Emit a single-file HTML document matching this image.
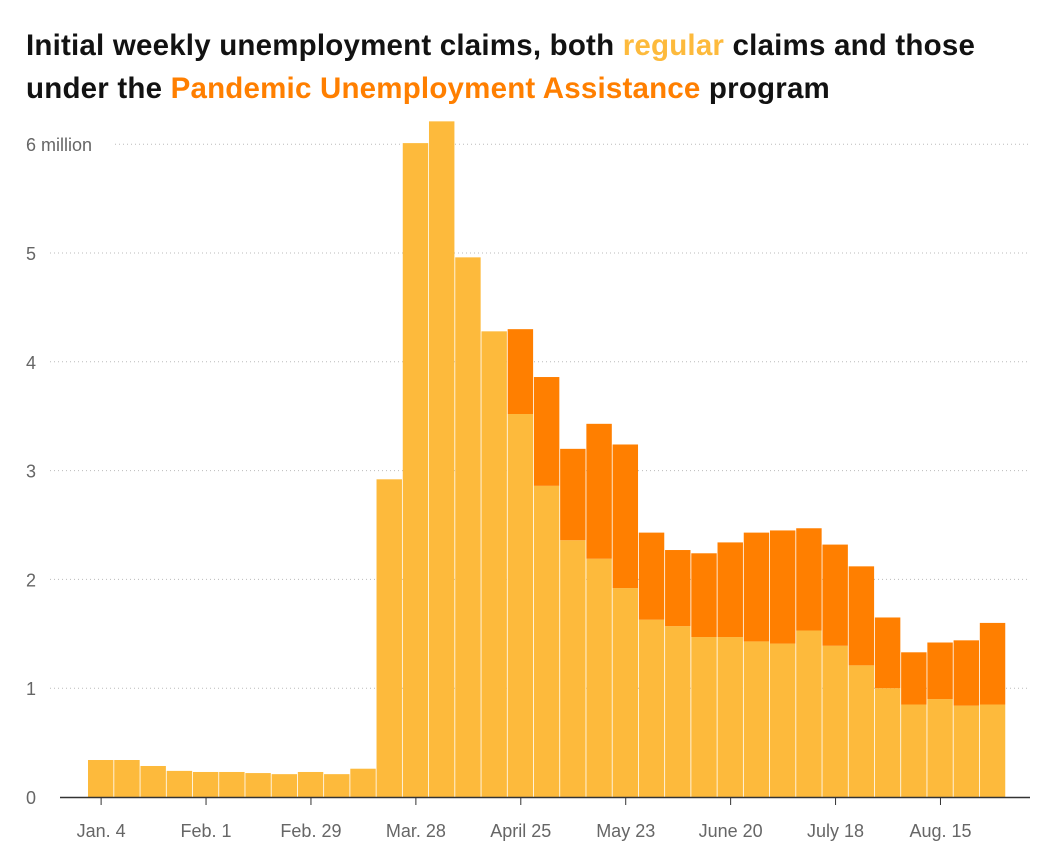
<!DOCTYPE html>
<html><head><meta charset="utf-8"><style>
body{margin:0;background:#fff;width:1061px;height:859px;overflow:hidden;font-family:"Liberation Sans",sans-serif}
h1{position:absolute;left:26px;top:24px;margin:0;font-size:29.5px;line-height:43px;font-weight:bold;color:#121212;width:990px;letter-spacing:0.2px}
.r{color:#fdba3c}.p{color:#ff7f00}
</style></head><body>
<h1>Initial weekly unemployment claims, both <span class="r">regular</span> claims and those<br>under the <span class="p">Pandemic Unemployment Assistance</span> program</h1>
<svg id="c" width="1061" height="859" style="position:absolute;left:0;top:0"></svg>
<script>
const regular=[0.34,0.34,0.285,0.24,0.23,0.23,0.22,0.21,0.23,0.21,0.26,2.92,6.01,6.21,4.96,4.28,3.52,2.86,2.36,2.19,1.92,1.63,1.57,1.47,1.47,1.43,1.41,1.53,1.39,1.21,1.00,0.85,0.90,0.84,0.85];
const total=[0.34,0.34,0.285,0.24,0.23,0.23,0.22,0.21,0.23,0.21,0.26,2.92,6.01,6.21,4.96,4.28,4.30,3.86,3.20,3.43,3.24,2.43,2.27,2.24,2.34,2.43,2.45,2.47,2.32,2.12,1.65,1.33,1.42,1.44,1.60];
const yTicks=[0,1,2,3,4,5,6];
const yLabels=["0","1","2","3","4","5","6 million"];
const xTickIdx=[0,4,8,12,16,20,24,28,32];
const xLabels=["Jan. 4","Feb. 1","Feb. 29","Mar. 28","April 25","May 23","June 20","July 18","Aug. 15"];
const NS="http://www.w3.org/2000/svg",svg=document.getElementById('c');
const x0=88,bw=26.23,yB=797,ppm=108.8;
const X=i=>x0+i*bw, Y=v=>yB-v*ppm;
function mk(t,a){const e=document.createElementNS(NS,t);for(const k in a)e.setAttribute(k,a[k]);svg.appendChild(e);return e;}
yTicks.forEach((v,i)=>{
 if(v>0){const l=mk('line',{x1:i==6?115:50,x2:1028,y1:Y(v),y2:Y(v),stroke:'#bbb','stroke-dasharray':'1,3'});
 }
 const t=mk('text',{x:26,y:Y(v)+7,'font-size':18,fill:'#666'});t.textContent=yLabels[i];
 
});
regular.forEach((r,i)=>{
 const b=mk('rect',{x:X(i),y:Y(r),width:bw-0.8,height:r*ppm,fill:'#fdba3c'});
 
 const d=total[i]-r;
 if(d>0.001){const p=mk('rect',{x:X(i),y:Y(total[i]),width:bw-0.8,height:d*ppm,fill:'#ff7f00'});
 }
});
const ax=mk('line',{x1:60,x2:1030,y1:yB+0.5,y2:yB+0.5,stroke:'#333','stroke-width':1.5});

xTickIdx.forEach((ix,k)=>{
 const cx=X(ix)+bw/2;
 const tk=mk('line',{x1:cx,x2:cx,y1:yB,y2:yB+8,stroke:'#333'});
 
 const t=mk('text',{x:cx,y:837,'font-size':18,fill:'#666','text-anchor':'middle'});t.textContent=xLabels[k];
 
});
</script>
</body></html>
